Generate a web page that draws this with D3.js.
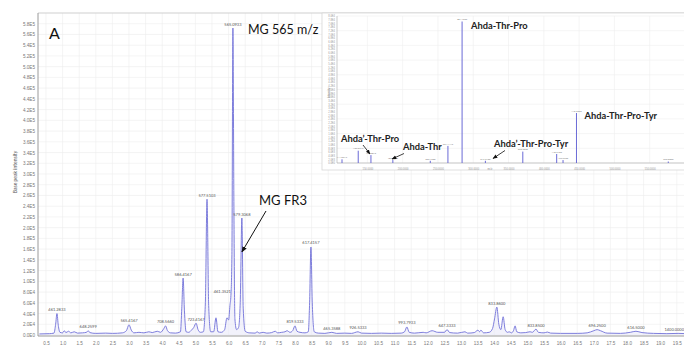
<!DOCTYPE html>
<html>
<head>
<meta charset="utf-8">
<script src="https://cdnjs.cloudflare.com/ajax/libs/d3/7.8.5/d3.min.js"></script>
<style>
  body { margin: 0; background: #fff; }
  svg { display: block; font-family: Lato, 'Open Sans', sans-serif; }
</style>
</head>
<body>
<script>
// base peak chromatogram as [retention time (min), intensity]
const trace = [
  [0.30, 2000], [0.60, 2500], [0.74, 3500], [0.79, 20000], [0.83, 40000], [0.87, 18000], [0.92, 5000],
  [1.00, 4000], [1.05, 8000], [1.10, 4500], [1.18, 7000], [1.25, 4000], [1.35, 6000], [1.45, 3500],
  [1.60, 4000], [1.72, 5000], [1.77, 8000], [1.82, 4500], [2.00, 3000], [2.30, 3500], [2.50, 3000],
  [2.80, 4000], [2.92, 8000], [3.00, 19000], [3.07, 9000], [3.15, 4000], [3.30, 5000], [3.45, 4000],
  [3.60, 6000], [3.70, 4500], [3.85, 7000], [3.95, 5000], [4.05, 12000], [4.10, 17000], [4.16, 8000],
  [4.25, 4000], [4.40, 3500], [4.55, 6000], [4.59, 50000], [4.63, 106000], [4.67, 45000], [4.72, 6000],
  [4.80, 5000], [4.88, 9000], [4.95, 14000], [5.02, 22000], [5.08, 10000], [5.15, 5000], [5.24, 6000],
  [5.30, 60000], [5.35, 253000], [5.40, 55000], [5.46, 6000], [5.55, 6000], [5.62, 32000], [5.68, 6000],
  [5.78, 5000], [5.88, 10000], [5.95, 32000], [6.00, 28000], [6.04, 55000], [6.07, 74000], [6.10, 150000],
  [6.13, 572000], [6.16, 240000], [6.19, 30000], [6.24, 10000], [6.30, 14000], [6.35, 60000],
  [6.40, 218000], [6.44, 50000], [6.50, 7000], [6.62, 4000], [6.80, 3500], [6.86, 6000], [6.92, 3500],
  [7.04, 5000], [7.15, 3500], [7.30, 4500], [7.40, 7000], [7.48, 4000], [7.60, 5000], [7.70, 6000],
  [7.76, 8000], [7.85, 5000], [7.93, 8000], [8.00, 17000], [8.06, 7000], [8.15, 5000], [8.30, 4000],
  [8.40, 6000], [8.44, 60000], [8.48, 164000], [8.52, 60000], [8.58, 6000], [8.70, 3500], [8.90, 3000],
  [9.11, 5000], [9.25, 3000], [9.50, 3500], [9.70, 3000], [9.90, 6000], [10.00, 3500], [10.30, 3000],
  [10.60, 3500], [10.90, 3000], [11.20, 3500], [11.30, 6000], [11.37, 15000], [11.44, 5000], [11.60, 3500],
  [11.86, 5000], [11.95, 4000], [12.13, 8000], [12.30, 5000], [12.50, 5000], [12.58, 10000], [12.66, 4500],
  [12.90, 3500], [13.12, 6000], [13.20, 3500], [13.40, 4500], [13.51, 9000], [13.56, 6000], [13.60, 9000],
  [13.68, 4000], [13.85, 5000], [13.95, 12000], [14.01, 30000], [14.08, 52000], [14.14, 20000],
  [14.20, 10000], [14.27, 34000], [14.33, 10000], [14.40, 5000], [14.45, 6000], [14.52, 4000],
  [14.58, 8000], [14.63, 17000], [14.68, 6000], [14.80, 4000], [14.95, 4500], [15.08, 6000],
  [15.15, 5000], [15.26, 11000], [15.33, 5000], [15.50, 4000], [15.60, 5500], [15.70, 3500],
  [16.00, 3000], [16.50, 3000], [16.80, 4000], [17.00, 8000], [17.10, 10000], [17.20, 8000],
  [17.40, 3500], [17.80, 3000], [18.10, 5000], [18.27, 7000], [18.45, 4500], [18.80, 3000],
  [19.20, 2500], [19.54, 3000], [19.80, 2500]
];

// labelled peaks (retention time, m/z label)
const peakRt   = [0.83, 1.77, 3.00, 4.10, 4.63, 5.02, 5.35, 6.07, 6.13, 6.40, 8.00, 8.48, 9.11, 9.90,
                  11.37, 12.58, 14.08, 15.26, 17.10, 18.27, 19.54];
const peakText = ['461.2833', '648.2599', '565.4167', '708.5660', '586.4167', '723.4167', '577.5103',
                  '461.3521', '565.0933', '579.3068', '819.5333', '617.4157', '465.3588', '926.5333',
                  '993.7933', '647.3333', '833.8600', '833.8500', '696.2500', '616.5000', '1400.0000'];

const xTicks = d3.range(0.5, 19.51, 0.5);
const yTicks = d3.range(0, 580001, 20000);

// inset MS/MS spectrum of m/z 565
const msMz  = [114.0917, 137.0712, 155.0816, 186.1130, 239.1500, 264.1449, 284.1962, 317.2100,
               370.2336, 418.2100, 427.2290, 446.2650, 576.3000];
const msInt = [2000, 6700, 4300, 1600, 1200, 9300, 77000, 1200, 6200, 4900, 1600, 27200, 800];
const msXTicks = d3.range(150, 551, 50);
const msYTicks = d3.range(0, 80001, 2000);

const WIDTH  = 684;
const HEIGHT = 346;

const fmtE = v => d3.format('.1e')(v).replace('e+', 'E').replace('e-', 'E-');

let svg = d3.select('body').append('svg')
    .attr('width', WIDTH)
    .attr('height', HEIGHT);

svg.append('defs').append('marker')
    .attr('id', 'arr')
    .attr('viewBox', '0 0 10 10')
    .attr('refX', 9).attr('refY', 5)
    .attr('markerWidth', 6).attr('markerHeight', 6)
    .attr('orient', 'auto')
  .append('path')
    .attr('d', 'M0,1 L10,5 L0,9 z')
    .attr('fill', '#111');

// ---------- main chromatogram ----------
const pLeft = 38, pTop = 13, pBottom = 335, pRight = 684;

let x = d3.scaleLinear().domain([0.5, 19.5]).range([46, 676.8]);
let y = d3.scaleLinear().domain([0, 600000]).range([pBottom, pTop]);

svg.append('clipPath').attr('id', 'plot')
  .append('rect').attr('x', pLeft).attr('y', pTop).attr('width', pRight - pLeft).attr('height', pBottom - pTop + 1);

let grid = svg.append('g').attr('stroke', '#ececec').attr('stroke-width', 0.6);
grid.selectAll('.gy').data(yTicks).join('line')
    .attr('x1', pLeft).attr('x2', pRight)
    .attr('y1', d => y(d)).attr('y2', d => y(d));
grid.selectAll('.gx').data(xTicks).join('line')
    .attr('x1', d => x(d)).attr('x2', d => x(d))
    .attr('y1', pTop).attr('y2', pBottom);

svg.append('line').attr('x1', pLeft).attr('x2', pRight).attr('y1', pTop).attr('y2', pTop)
    .attr('stroke', '#cfcfcf');
svg.append('line').attr('x1', pLeft).attr('x2', pLeft).attr('y1', pTop).attr('y2', pBottom + 1)
    .attr('stroke', '#9a9a9a');
svg.append('line').attr('x1', pLeft).attr('x2', pRight).attr('y1', pBottom + 1).attr('y2', pBottom + 1)
    .attr('stroke', '#9a9a9a');

// axes
let yAxis = svg.append('g')
    .attr('transform', `translate(${pLeft - 3},0)`)
    .call(d3.axisLeft(y).tickValues(yTicks).tickSize(0).tickFormat(fmtE));
yAxis.select('.domain').remove();
yAxis.selectAll('text').attr('font-size', 4.6).attr('fill', '#777').attr('x', 0);

let xAxis = svg.append('g')
    .attr('transform', `translate(0,${pBottom + 3})`)
    .call(d3.axisBottom(x).tickValues(xTicks).tickSize(0).tickFormat(d3.format('.1f')));
xAxis.select('.domain').remove();
xAxis.selectAll('text').attr('font-size', 4.6).attr('fill', '#777').attr('dy', '0.9em');

svg.append('text')
    .attr('transform', `translate(17,172) rotate(-90)`)
    .attr('text-anchor', 'middle')
    .attr('font-size', 5)
    .attr('fill', '#555')
    .text('Base peak intensity');

let plot = svg.append('g').attr('clip-path', 'url(#plot)');

plot.append('path')
    .datum(trace)
    .attr('fill', '#e9e9f8')
    .attr('fill-opacity', 0.6)
    .attr('d', d3.area().x(d => x(d[0])).y0(y(0)).y1(d => y(d[1])).curve(d3.curveMonotoneX));

plot.append('path')
    .datum(trace)
    .attr('fill', 'none')
    .attr('stroke', '#7070d8')
    .attr('stroke-width', 0.9)
    .attr('d', d3.line().x(d => x(d[0])).y(d => y(d[1])).curve(d3.curveMonotoneX));

// peak labels sit above the apex of each labelled peak
const apex = t => d3.max(trace.filter(d => Math.abs(d[0] - t) < 0.015), d => d[1]);
svg.append('g').selectAll('text').data(peakRt).join('text')
    .attr('x', (d, i) => (i === peakRt.length - 1 ? pRight : x(d)))
    .attr('y', d => y(apex(d)) - 2.5)
    .attr('text-anchor', (d, i) => (peakText[i] === '461.3521' ? 'end' : i === peakRt.length - 1 ? 'end' : 'middle'))
    .attr('font-size', 4)
    .attr('fill', '#555')
    .text((d, i) => peakText[i]);

svg.append('text')
    .attr('x', 49).attr('y', 39)
    .attr('font-size', 16)
    .attr('fill', '#111')
    .text('A');

svg.append('text')
    .attr('x', 248).attr('y', 34)
    .attr('font-size', 12.5)
    .attr('fill', '#111')
    .text('MG 565 m/z');

svg.append('text')
    .attr('x', 259).attr('y', 205)
    .attr('font-size', 13)
    .attr('fill', '#111')
    .text('MG FR3');

svg.append('line')
    .attr('x1', 266).attr('y1', 211)
    .attr('x2', x(6.40)).attr('y2', 252)
    .attr('stroke', '#111').attr('stroke-width', 1)
    .attr('marker-end', 'url(#arr)');

// ---------- inset spectrum ----------
const iL = 337, iT = 16, iB = 163, iR = 684;

svg.append('rect')
    .attr('x', 322).attr('y', 13).attr('width', 370).attr('height', 157)
    .attr('fill', '#fff').attr('stroke', '#d6d6d6').attr('stroke-width', 0.8);

let mx = d3.scaleLinear().domain([107, 600]).range([iL, 685]);
let my = d3.scaleLinear().domain([0, 80000]).range([iB, iT]);

let igrid = svg.append('g').attr('stroke', '#eeeeee').attr('stroke-width', 0.6);
igrid.selectAll('.gx').data(msXTicks).join('line')
    .attr('x1', d => mx(d)).attr('x2', d => mx(d)).attr('y1', iT).attr('y2', iB);
igrid.selectAll('.gy').data(msYTicks.filter(d => d % 8000 === 0)).join('line')
    .attr('x1', iL).attr('x2', iR).attr('y1', d => my(d)).attr('y2', d => my(d));

svg.append('line').attr('x1', iL).attr('x2', iL).attr('y1', iT).attr('y2', iB)
    .attr('stroke', '#aaa').attr('stroke-width', 0.6);
svg.append('line').attr('x1', iL).attr('x2', iR).attr('y1', iB).attr('y2', iB)
    .attr('stroke', '#aaa').attr('stroke-width', 0.6);

let iy = svg.append('g')
    .attr('transform', `translate(${iL - 2},0)`)
    .call(d3.axisLeft(my).tickValues(msYTicks).tickSize(0).tickFormat(fmtE));
iy.select('.domain').remove();
iy.selectAll('text').attr('font-size', 2.6).attr('fill', '#999').attr('x', 0);

let ix = svg.append('g')
    .attr('transform', `translate(0,${iB + 1.5})`)
    .call(d3.axisBottom(mx).tickValues(msXTicks).tickSize(0).tickFormat(d3.format('.4f')));
ix.select('.domain').remove();
ix.selectAll('text').attr('font-size', 2.6).attr('fill', '#999').attr('dy', '0.9em');

svg.append('text')
    .attr('transform', `translate(330,93) rotate(-90)`)
    .attr('text-anchor', 'middle')
    .attr('font-size', 2.8)
    .attr('fill', '#888')
    .text('Intensity');

svg.append('text')
    .attr('x', 490).attr('y', iB + 6.5)
    .attr('text-anchor', 'middle')
    .attr('font-size', 2.8)
    .attr('fill', '#888')
    .text('m/z');

svg.append('g').selectAll('line').data(msMz).join('line')
    .attr('x1', d => mx(d)).attr('x2', d => mx(d))
    .attr('y1', iB)
    .attr('y2', (d, i) => my(msInt[i]))
    .attr('stroke', '#6a6ad6')
    .attr('stroke-width', 1);

svg.append('g').selectAll('text').data(msMz).join('text')
    .attr('x', d => mx(d))
    .attr('y', (d, i) => my(msInt[i]) - 1.2)
    .attr('text-anchor', 'middle')
    .attr('font-size', 2.4)
    .attr('fill', '#777')
    .text(d => d3.format('.4f')(d));

let ann = svg.append('g').attr('font-size', 9.3).attr('font-weight', 'bold').attr('fill', '#222');
ann.append('text').attr('x', mx(284.1962) + 9).attr('y', 29).text('Ahda-Thr-Pro');
ann.append('text').attr('x', mx(446.2650) + 8).attr('y', 119).text('Ahda-Thr-Pro-Tyr');
ann.append('text').attr('x', 341).attr('y', 142).text('Ahda\u2019-Thr-Pro');
ann.append('text').attr('x', 403).attr('y', 150).text('Ahda-Thr');
ann.append('text').attr('x', 494).attr('y', 146.5).text('Ahda\u2019-Thr-Pro-Tyr');

let arrows = svg.append('g').attr('stroke', '#111').attr('stroke-width', 0.8);
arrows.append('line').attr('x1', 363).attr('y1', 145).attr('x2', 370).attr('y2', 154)
    .attr('marker-end', 'url(#arr)');
arrows.append('line').attr('x1', 404).attr('y1', 153.5).attr('x2', 392).attr('y2', 159)
    .attr('marker-end', 'url(#arr)');
arrows.append('line').attr('x1', 505).attr('y1', 150.5).attr('x2', 493).attr('y2', 158.5)
    .attr('marker-end', 'url(#arr)');
</script>
</body>
</html>
